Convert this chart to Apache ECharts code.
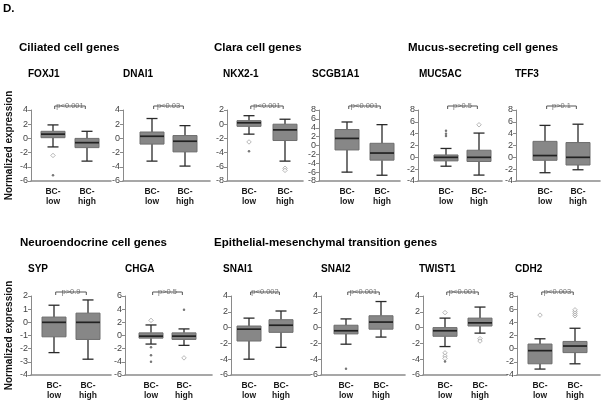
<!DOCTYPE html>
<html><head><meta charset="utf-8">
<script src="https://cdn.jsdelivr.net/npm/echarts@6/dist/echarts.min.js"></script>
<style>html,body{margin:0;padding:0;background:#fff}#c{width:603px;height:402px}</style>
</head><body><div id="c"></div>
<script>
// ---------- data ----------
const genes = ['FOXJ1','DNAI1','NKX2-1','SCGB1A1','MUC5AC','TFF3','SYP','CHGA','SNAI1','SNAI2','TWIST1','CDH2'];
const groups = ['BC-low','BC-high'];
const pValues = ['p<0.001','p<0.03','p<0.001','p<0.001','p>0.5','p>0.1','p>0.9','p>0.5','p<0.002','p<0.001','p<0.001','p<0.003'];
const yMin = [-6,-6,-8,-8,-4,-4,-4,-6,-6,-6,-6,-4];
const yMax = [4,4,2,8,8,8,2,6,4,4,4,8];
const yStep = [2,2,2,2,2,2,1,2,2,2,2,2];
// [min, Q1, median, Q3, max]
const boxLow = [
  [-1.2,0.1,0.6,1.0,1.9],[-3.2,-0.8,0.3,0.9,2.8],[-1.4,-0.3,0.2,0.5,1.2],[-6.0,-1.0,1.6,3.6,5.3],
  [-1.5,-0.6,0.0,0.4,1.5],[-2.6,-0.5,0.3,2.7,5.4],[-2.3,-1.1,0.0,0.4,1.3],[-1.3,-0.4,-0.1,0.4,1.6],
  [-4.0,-1.7,-0.2,0.2,1.2],[-2.1,-0.8,-0.4,0.3,1.1],[-2.4,-1.1,-0.4,0.0,1.2],[-3.1,-2.3,-0.3,0.7,1.5]
];
const boxHigh = [
  [-3.2,-1.3,-0.6,0.0,1.0],[-3.9,-1.9,-0.4,0.4,1.8],[-5.2,-2.3,-0.8,0.0,0.7],[-6.7,-3.3,-1.7,0.5,4.7],
  [-3.0,-0.7,0.0,1.2,4.1],[-2.1,-1.3,0.0,2.5,5.6],[-2.8,-1.3,0.0,0.7,1.7],[-1.5,-0.6,-0.1,0.4,1.0],
  [-2.5,-0.6,0.3,1.0,2.1],[-1.2,-0.2,0.7,1.5,3.3],[-0.7,0.2,0.6,1.2,2.6],[-2.3,-0.6,0.4,1.1,3.1]
];
// [group index, value, kind(0 = open diamond, 1 = dot)]
const outliers = [
  [[0,-2.4,0],[0,-5.2,1]],
  [],
  [[0,-2.5,0],[0,-3.8,1],[1,-6.2,0],[1,-6.5,0]],
  [],
  [[0,3.6,1],[0,4.0,1],[0,4.5,1],[1,5.5,0]],
  [],
  [],
  [[0,2.3,0],[0,-1.8,1],[0,-3.0,1],[0,-4.0,1],[1,3.9,1],[1,-3.4,0]],
  [],
  [[0,-5.2,1]],
  [[0,1.9,0],[0,-3.2,0],[0,-3.6,0],[0,-3.9,0],[0,-4.3,1],[1,-1.4,0],[1,-1.7,0]],
  [[0,5.1,0],[1,5.0,0],[1,5.3,0],[1,5.6,0],[1,5.9,0]]
];
const sectionTitles = ['Ciliated cell genes','Clara cell genes','Mucus-secreting cell genes','Neuroendocrine cell genes','Epithelial-mesenchymal transition genes'];
const yName = 'Normalized expression';

// ---------- layout (pixels) ----------
const rowOf = [0,0,0,0,0,0,1,1,1,1,1,1];
const rowTop = [110, 296];
const rowHeight = [71, 79];
const axisLeftPx  = [31,123,227,319,418,516, 31,125,231,321,423,517];
const axisRightPx = [111,210,303,400,502,600, 111,212,310,405,507,600];
const lowCenterPx = [53,152,249,347,446,545, 54,151,249,346,445,540];
const highCenterPx= [87,185,285,382,479,578, 88,184,281,381,480,575];
const geneTitleX  = [28,123,223,312,419,515, 28,125,223,321,419,515];
const geneTitleY  = [69, 264];
const sectionPos  = [[19,42],[214,42],[408,42],[20,237],[214,237]];

const FONT = '"Liberation Sans", Arial, sans-serif';
const chart = echarts.init(document.getElementById('c'), null, {renderer:'canvas'});

const titles = [{text:'D.', left:3, top:3, padding:0, textStyle:{fontSize:11.5, fontWeight:'bold', color:'#000', fontFamily:FONT}}];
sectionTitles.forEach((t,i)=>titles.push({text:t, left:sectionPos[i][0], top:sectionPos[i][1], padding:0,
  textStyle:{fontSize:11.5, fontWeight:'bold', color:'#000', fontFamily:FONT}}));
genes.forEach((g,i)=>titles.push({text:g, left:geneTitleX[i], top:geneTitleY[rowOf[i]], padding:0,
  textStyle:{fontSize:10, fontWeight:'bold', color:'#000', fontFamily:FONT}}));

const grids=[], xAxes=[], yAxes=[], series=[];

function renderBox(params, api){
  const x = api.value(0);
  const p = [1,2,3,4,5].map(k=>api.coord([x, api.value(k)]));
  const cx = p[0][0], hw = 12, cw = 5.5;
  const dark = {stroke:'#2a2a2a', lineWidth:1.3};
  return {type:'group', children:[
    {type:'line', shape:{x1:cx,y1:p[0][1],x2:cx,y2:p[1][1]}, style:dark},
    {type:'line', shape:{x1:cx,y1:p[3][1],x2:cx,y2:p[4][1]}, style:dark},
    {type:'line', shape:{x1:cx-cw,y1:p[0][1],x2:cx+cw,y2:p[0][1]}, style:dark},
    {type:'line', shape:{x1:cx-cw,y1:p[4][1],x2:cx+cw,y2:p[4][1]}, style:dark},
    {type:'rect', shape:{x:cx-hw,y:p[3][1],width:2*hw,height:p[1][1]-p[3][1]}, style:{fill:'#878787', stroke:'#6e6e6e', lineWidth:1}},
    {type:'line', shape:{x1:cx-hw,y1:p[2][1],x2:cx+hw,y2:p[2][1]}, style:{stroke:'#222', lineWidth:1.7}}
  ]};
}

genes.forEach((g,i)=>{
  const r = rowOf[i];
  const L = axisLeftPx[i], R = axisRightPx[i];
  const unit = highCenterPx[i]-lowCenterPx[i];
  const xmin = 1 - (lowCenterPx[i]-L)/unit;
  const xmax = 2 + (R-highCenterPx[i])/unit;
  grids.push({left:L, top:rowTop[r], width:R-L, height:rowHeight[r], containLabel:false});
  xAxes.push({gridIndex:i, type:'value', min:xmin, max:xmax,
    axisLine:{show:true, onZero:false, lineStyle:{color:'#8a8a8a', width:1.6}},
    axisTick:{show:false}, splitLine:{show:false},
    axisLabel:{customValues:[1,2], formatter:v=>{const s=groups[Math.round(v)-1]; return s.replace('-','-\n');},
      fontSize:8.5, fontWeight:'bold', color:'#1a1a1a', lineHeight:10.5, margin:5, fontFamily:FONT}});
  const ya = {gridIndex:i, type:'value', min:yMin[i], max:yMax[i], interval:yStep[i],
    axisLine:{show:true, onZero:false, lineStyle:{color:'#8a8a8a', width:1}},
    axisTick:{show:true, length:3, lineStyle:{color:'#8a8a8a'}},
    splitLine:{show:false},
    axisLabel:{fontSize:9, color:'#444', margin:3, fontFamily:FONT}};
  if (i===0 || i===6) {
    ya.name = yName; ya.nameLocation='middle'; ya.nameGap=17;
    ya.nameTextStyle = {fontSize:10, fontWeight:'bold', color:'#111', fontFamily:FONT};
  }
  yAxes.push(ya);

  series.push({type:'custom', xAxisIndex:i, yAxisIndex:i, renderItem:renderBox,
    encode:{x:0, y:[1,2,3,4,5]}, clip:false, silent:true,
    data:[[1].concat(boxLow[i]), [2].concat(boxHigh[i])]});

  series.push({type:'scatter', xAxisIndex:i, yAxisIndex:i, silent:true, clip:false,
    data: outliers[i].map(o=>({value:[o[0]+1, o[1]],
      symbol: o[2]===0 ? 'diamond' : 'circle',
      symbolSize: o[2]===0 ? 4.5 : 2.5,
      itemStyle: o[2]===0 ? {color:'#fff', borderColor:'#9a9a9a', borderWidth:0.9} : {color:'#555'}}))});

  const span = yMax[i]-yMin[i], h = rowHeight[r];
  const yTop = yMax[i] + span*4/h, yEnd = yMax[i] + span*1/h;
  series.push({type:'line', xAxisIndex:i, yAxisIndex:i, silent:true, clip:false, symbol:'none',
    lineStyle:{color:'#555', width:1}, animation:false,
    data:[[1.05,yEnd],[1.05,yTop],[1.95,yTop],[1.95,yEnd]]});
  series.push({type:'scatter', xAxisIndex:i, yAxisIndex:i, silent:true, clip:false,
    symbol:'rect', symbolSize:1, itemStyle:{color:'rgba(0,0,0,0)'},
    label:{show:true, position:'inside', formatter:pValues[i], fontSize:7.5, color:'#555',
      backgroundColor:'#fff', padding:[0,1], fontFamily:FONT},
    data:[[1.5, yTop]]});
});

chart.setOption({animation:false, backgroundColor:'#fff', title:titles, grid:grids, xAxis:xAxes, yAxis:yAxes, series:series});
</script></body></html>
